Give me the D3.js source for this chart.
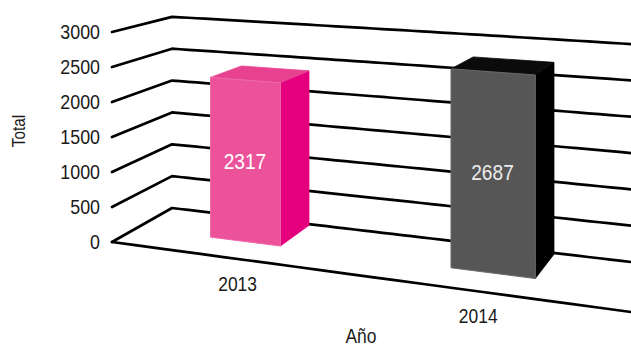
<!DOCTYPE html>
<html><head><meta charset="utf-8">
<script src="https://cdn.jsdelivr.net/npm/d3@7"></script>
<style>html,body{margin:0;padding:0;background:#fff;overflow:hidden}</style>
</head><body><svg id="c" width="631" height="348"></svg>
<script>
// ---- data ----
const categories = ["2013", "2014"];
const values = [2317, 2687];
const tickValues = [0, 500, 1000, 1500, 2000, 2500, 3000];
const xTitle = "Año";
const yTitle = "Total";

// ---- styles ----
const faceColors = [
  {front: "#EC529A", top: "#E7418F", side: "#E4007D", stroke: "#EE6AA8", label: "#ffffff"},
  {front: "#565656", top: "#0b0b0b", side: "#000000", stroke: "#6a6a6a", label: "#ececec"}
];
const FONT = "'Liberation Sans', Arial, sans-serif";
const NARROW = 0.85;

const svg = d3.select("#c");

// ---- scales ----
const y = d3.scaleLinear().domain([0, 3000]).range([0, 1]);
const x = d3.scaleBand().domain(categories).range([0, 0.99]).paddingInner(0.69).paddingOuter(0.345);
const xLabel = d3.scalePoint().domain(categories).range([0.28, 0.745]);
const zFront = 0.4, zBack = 0.97;

// ---- perspective projection ----
const VX = [-2268, -79], VZ = [912, -211], O = [112, 242];
const alpha = -0.179, beta = 0.0811;
function floorPt(X, Z) {
  const w = 1 + alpha * X + beta * Z;
  return [(alpha * X * VX[0] + beta * Z * VZ[0] + O[0]) / w,
          (alpha * X * VX[1] + beta * Z * VZ[1] + O[1]) / w];
}
function hScale(X, Z) { return 210 / (1 - 0.141 * X + 0.0984 * Z); }
function P(X, Z, V) { const f = floorPt(X, Z); return [f[0], f[1] - V * hScale(X, Z)]; }

const line = d3.line();

// ---- gridlines (left wall + back wall) ----
const grid = svg.append("g").attr("fill", "none").attr("stroke", "#000").attr("stroke-width", 2.7)
  .attr("stroke-linejoin", "round").attr("stroke-linecap", "round");
tickValues.forEach(t => {
  const V = y(t);
  const pts = [P(0, 0, V)];
  d3.range(0, 1.1201, 0.02).forEach(X => pts.push(P(X, 1, V)));
  grid.append("path").attr("d", line(pts));
});
// floor front edge
grid.append("path").attr("d", line(d3.range(0, 1.1201, 0.05).map(X => P(X, 0, 0))));

// ---- bars ----
const bars = svg.append("g");
categories.forEach((c, i) => {
  const X0 = x(c), X1 = X0 + x.bandwidth(), V = y(values[i]);
  const col = faceColors[i];
  const poly = pts => "M" + pts.map(p => p.join(",")).join("L") + "Z";
  bars.append("path").attr("d", poly([P(X1, zFront, 0), P(X1, zBack, 0), P(X1, zBack, V), P(X1, zFront, V)]))
    .attr("fill", col.side).attr("stroke", col.side).attr("stroke-width", 0.8);
  bars.append("path").attr("d", poly([P(X0, zFront, V), P(X1, zFront, V), P(X1, zBack, V), P(X0, zBack, V)]))
    .attr("fill", col.top).attr("stroke", col.top).attr("stroke-width", 0.8);
  bars.append("path").attr("d", poly([P(X0, zFront, 0), P(X1, zFront, 0), P(X1, zFront, V), P(X0, zFront, V)]))
    .attr("fill", col.front).attr("stroke", col.stroke).attr("stroke-width", 1);
  // value label
  const m = P(X0 + x.bandwidth() / 2, zFront, V / 2);
  bars.append("g").attr("transform", `translate(${m[0]},${m[1] + 8}) scale(${NARROW},1)`)
    .append("text").attr("text-anchor", "middle").attr("font-family", FONT).attr("font-size", 22.5)
    .attr("fill", col.label).text(values[i]);
});

// ---- tick labels ----
const ticks = svg.append("g").attr("font-family", FONT).attr("fill", "#1a1a1a");
tickValues.forEach(t => {
  const p = P(0, 0, y(t));
  ticks.append("g").attr("transform", `translate(${p[0] - 12},${p[1] + 7}) scale(${NARROW},1)`)
    .append("text").attr("text-anchor", "end").attr("font-size", 21).text(t);
});

// ---- category labels ----
categories.forEach(c => {
  const p = P(xLabel(c), 0, 0);
  ticks.append("g").attr("transform", `translate(${p[0]},${p[1] + 31.6}) scale(${NARROW},1)`)
    .append("text").attr("text-anchor", "middle").attr("font-size", 20.5).text(c);
});

// ---- axis titles ----
ticks.append("g").attr("transform", `translate(25,131) rotate(-90) scale(${NARROW},1)`)
  .append("text").attr("text-anchor", "middle").attr("font-size", 18).text(yTitle);
ticks.append("g").attr("transform", `translate(361,343) scale(${NARROW},1)`)
  .append("text").attr("text-anchor", "middle").attr("font-size", 20.5).text(xTitle);
</script>
</body></html>
